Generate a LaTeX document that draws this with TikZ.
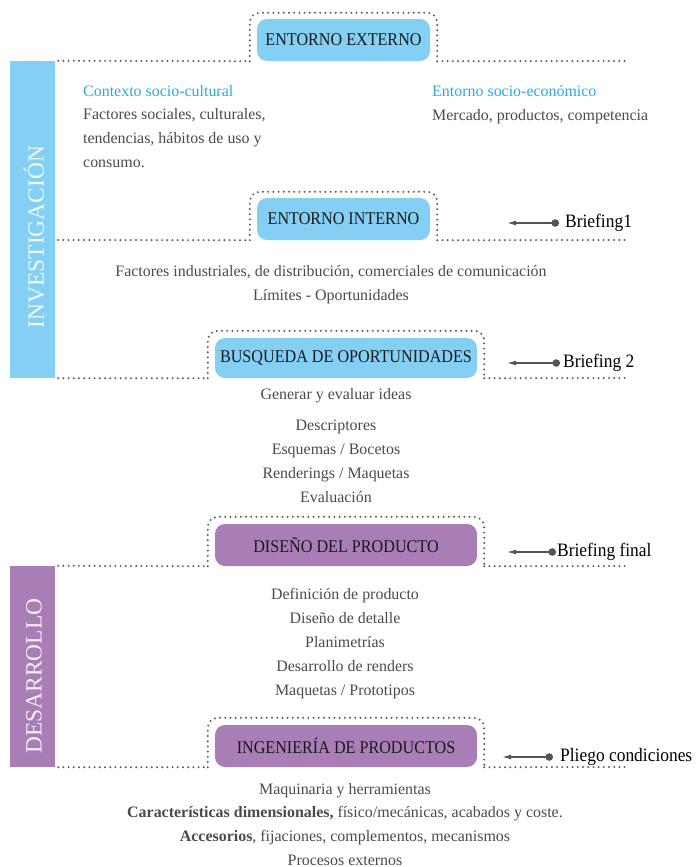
\documentclass[tikz,border=0pt]{standalone}
\usepackage{fontspec}
\setmainfont{Liberation Serif}
\newfontfamily\condfont[FakeStretch=0.9]{Liberation Serif}
\newfontfamily\brieffont[FakeStretch=0.92]{Liberation Serif}
\usetikzlibrary{arrows.meta}
\definecolor{blueF}{HTML}{84D0F5}
\definecolor{blueT}{HTML}{2AA9E0}
\definecolor{purpF}{HTML}{A97DB6}
\definecolor{bodyT}{HTML}{4A4A4A}
\definecolor{dotC}{HTML}{5A5A5A}
\definecolor{arrC}{HTML}{555555}
\tikzset{
  stagebox/.style={rectangle, rounded corners=10bp, inner sep=0pt, text=black!90,
    font=\condfont\fontsize{18}{20}\selectfont},
  bluebox/.style={stagebox, fill=blueF, minimum width=173bp, minimum height=42bp},
  purpbox/.style={stagebox, fill=purpF, minimum width=262bp, minimum height=42bp},
  widebluebox/.style={stagebox, fill=blueF, minimum width=262bp, minimum height=40bp},
  dotline/.style={draw=dotC, line width=2.2bp, line cap=round, dash pattern=on 0pt off 5.2bp},
  body/.style={font=\fontsize{16}{24}\selectfont, text=bodyT, inner sep=0pt},
  head/.style={font=\fontsize{16}{24}\selectfont, text=blueT, inner sep=0pt},
  brief/.style={font=\brieffont\fontsize{19}{20}\selectfont, text=black, inner sep=0pt, anchor=west},
  briefarrow/.style={draw=arrC, line width=1.3bp, {Latex[length=9bp,width=5bp]}-{Circle[length=7.5bp]}},
  sidebar/.style={rectangle, inner sep=0pt, minimum width=45bp},
  sidetext/.style={font=\fontsize{23.5}{24}\selectfont, text=white, text opacity=0.88, rotate=90}
}
\begin{document}
\begin{tikzpicture}[x=1bp, y=-1bp]
\useasboundingbox (0,0) rectangle (696,867);

% side bars
\node[sidebar, fill=blueF, minimum height=317bp] (barI) at (32.5,219.5) {};
\node[sidetext] (txtI) at (34,237) {INVESTIGACIÓN};
\node[sidebar, fill=purpF, minimum height=201bp] (barD) at (32.5,666.5) {};
\node[sidetext] (txtD) at (34,676) {DESARROLLO};

% stage boxes
\node[bluebox] (ext) at (343.5,40) {ENTORNO EXTERNO};
\node[bluebox] (int) at (343.5,219) {ENTORNO INTERNO};
\node[widebluebox] (busq) at (346,358) {BUSQUEDA DE OPORTUNIDADES};
\node[purpbox] (dis) at (346,545) {DISEÑO DEL PRODUCTO};
\node[purpbox] (ing) at (346,746) {INGENIERÍA DE PRODUCTOS};

% line ends on the right
\coordinate (r1) at (628,61);
\coordinate (r2) at (628,240);
\coordinate (r3) at (628,378);
\coordinate (r4) at (628,566);
\coordinate (r5) at (628,767);
\coordinate (l2) at (58,240);

% dotted frames and lines
\draw[dotline] ([xshift=3bp]barI.north east) -- ([xshift=-7bp]ext.south west);
\draw[dotline, rounded corners=10bp] ([xshift=-7bp]ext.south west) -- ([shift={(-7bp,6bp)}]ext.north west) -- ([shift={(7bp,6bp)}]ext.north east) -- ([xshift=7bp]ext.south east);
\draw[dotline] ([xshift=7bp]ext.south east) -- (r1);

\draw[dotline] (l2) -- ([xshift=-7bp]int.south west);
\draw[dotline, rounded corners=10bp] ([xshift=-7bp]int.south west) -- ([shift={(-7bp,6bp)}]int.north west) -- ([shift={(7bp,6bp)}]int.north east) -- ([xshift=7bp]int.south east);
\draw[dotline] ([xshift=7bp]int.south east) -- (r2);

\draw[dotline] ([xshift=3bp]barI.south east) -- ([xshift=-7bp]busq.south west);
\draw[dotline, rounded corners=10bp] ([xshift=-7bp]busq.south west) -- ([shift={(-7bp,7bp)}]busq.north west) -- ([shift={(7bp,7bp)}]busq.north east) -- ([xshift=7bp]busq.south east);
\draw[dotline] ([xshift=7bp]busq.south east) -- (r3);

\draw[dotline] ([xshift=3bp]barD.north east) -- ([xshift=-7bp]dis.south west);
\draw[dotline, rounded corners=10bp] ([xshift=-7bp]dis.south west) -- ([shift={(-7bp,7bp)}]dis.north west) -- ([shift={(7bp,7bp)}]dis.north east) -- ([xshift=7bp]dis.south east);
\draw[dotline] ([xshift=7bp]dis.south east) -- (r4);

\draw[dotline] ([xshift=3bp]barD.south east) -- ([xshift=-7bp]ing.south west);
\draw[dotline, rounded corners=10bp] ([xshift=-7bp]ing.south west) -- ([shift={(-7bp,7bp)}]ing.north west) -- ([shift={(7bp,7bp)}]ing.north east) -- ([xshift=7bp]ing.south east);
\draw[dotline] ([xshift=7bp]ing.south east) -- (r5);

% text blocks (anchor base = last line baseline)
\node[head, anchor=base west] (ctxH) at (83,96) {Contexto socio-cultural};
\node[body, anchor=base west, align=left] (ctxB) at (83,167) {Factores sociales, culturales,\\tendencias, hábitos de uso y\\consumo.};
\node[head, anchor=base west] (secH) at (432,96) {Entorno socio-económico};
\node[body, anchor=base west] (secB) at (432,120) {Mercado, productos, competencia};

\node[body, anchor=base, align=center] (intB) at (331,300) {Factores industriales, de distribución, comerciales de comunicación\\Límites - Oportunidades};

\node[body, anchor=base] (busqB0) at (336,399) {Generar y evaluar ideas};
\node[body, anchor=base, align=center] (busqB) at (336,502) {Descriptores\\Esquemas / Bocetos\\Renderings / Maquetas\\Evaluación};

\node[body, anchor=base, align=center] (disB) at (345,695) {Definición de producto\\Diseño de detalle\\Planimetrías\\Desarrollo de renders\\Maquetas / Prototipos};

\node[body, anchor=base, align=center, font=\fontsize{16}{23.7}\selectfont] (ingB) at (345,865) {Maquinaria y herramientas\\\textbf{Características dimensionales,} físico/mecánicas, acabados y coste.\\\textbf{Accesorios}, fijaciones, complementos, mecanismos\\Procesos externos};

% briefings
\node[brief] (b1) at (565,223) {Briefing1};
\coordinate (b1e) at (507,223);
\draw[briefarrow] (b1e) -- ([xshift=-6bp]b1.west);

\node[brief] (b2) at (563,363) {Briefing 2};
\coordinate (b2e) at (507,363);
\draw[briefarrow] (b2e) -- ([xshift=-3bp]b2.west);

\node[brief] (b3) at (557,552) {Briefing final};
\coordinate (b3e) at (507,552);
\draw[briefarrow] (b3e) -- ([xshift=-1bp]b3.west);

\node[brief] (b4) at (560,757) {Pliego condiciones};
\coordinate (b4e) at (502,757);
\draw[briefarrow] (b4e) -- ([xshift=-7bp]b4.west);
\end{tikzpicture}
\end{document}
